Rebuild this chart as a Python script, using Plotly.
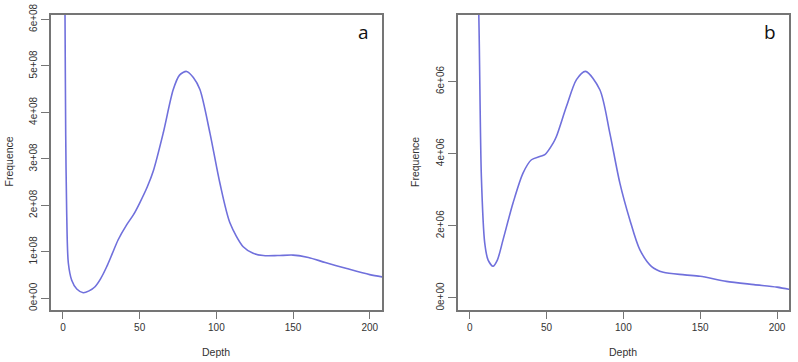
import plotly.graph_objects as go

# Panel a
depth_a = [1.0, 1.3, 1.8, 2.4, 3.5, 5.7, 9, 13.2, 17, 20.9, 24.5, 28.5, 32, 36, 41.5, 46, 50,
           55, 59, 65.4, 71.9, 76, 80.6, 85, 89.3, 95.8, 102.3, 108.9, 117.5, 124, 130.6,
           140, 150, 160, 171, 185, 200, 210]
freq_a = [7.5e8, 6.3e8, 3.5e8, 1.9e8, 0.76e8, 0.39e8, 0.2e8, 0.12e8, 0.16e8, 0.25e8, 0.42e8,
          0.68e8, 0.95e8, 1.26e8, 1.58e8, 1.8e8, 2.05e8, 2.4e8, 2.75e8, 3.56e8, 4.49e8, 4.8e8,
          4.88e8, 4.75e8, 4.49e8, 3.56e8, 2.48e8, 1.62e8, 1.11e8, 0.97e8, 0.92e8, 0.92e8,
          0.93e8, 0.88e8, 0.77e8, 0.64e8, 0.51e8, 0.45e8]

# Panel b
depth_b = [4.5, 5.9, 7.6, 9.8, 12, 15.2, 18, 21.7, 28.2, 34.7, 40.2, 45.6, 48.9, 54.3, 56.5,
           63, 69.5, 75.4, 84.7, 91.2, 97.7, 104.2, 110.7, 118.4, 126, 140, 150, 167, 185,
           200, 210]
freq_b = [9.5e6, 7.9e6, 3.37e6, 1.52e6, 1.05e6, 0.88e6, 1.05e6, 1.61e6, 2.63e6, 3.46e6,
          3.83e6, 3.92e6, 3.97e6, 4.29e6, 4.48e6, 5.31e6, 6.05e6, 6.28e6, 5.77e6, 4.57e6,
          3.19e6, 2.17e6, 1.34e6, 0.87e6, 0.71e6, 0.64e6, 0.6e6, 0.46e6, 0.37e6, 0.3e6, 0.22e6]

x_ticks = [0, 50, 100, 150, 200]
x_ticktext = ["0", "50", "100", "150", "200"]
ya_ticks = [0, 1e8, 2e8, 3e8, 4e8, 5e8, 6e8]
ya_ticktext = ["0e+00", "1e+08", "2e+08", "3e+08", "4e+08", "5e+08", "6e+08"]
yb_ticks = [0, 2e6, 4e6, 6e6]
yb_ticktext = ["0e+00", "2e+06", "4e+06", "6e+06"]
panel_labels = ["a", "b"]
x_title = "Depth"
y_title = "Frequence"

W, H = 798, 362


def px(xp):
    return xp / W


def py(yp):
    return 1 - yp / H


LINE = "#7070dc"
AX = "#757575"
FONT = "Liberation Sans, Arial, sans-serif"

fig = go.Figure()
fig.add_trace(go.Scatter(x=depth_a, y=freq_a, mode="lines", xaxis="x", yaxis="y",
                         line=dict(color=LINE, width=1.6, shape="spline", smoothing=0.8),
                         showlegend=False, hoverinfo="skip"))
fig.add_trace(go.Scatter(x=depth_b, y=freq_b, mode="lines", xaxis="x2", yaxis="y2",
                         line=dict(color=LINE, width=1.6, shape="spline", smoothing=0.8),
                         showlegend=False, hoverinfo="skip"))

ydom = [py(309.5), py(14.7)]
xdom_a = [px(51), px(382)]
xdom_b = [px(457.7), px(789.3)]

common_x = dict(range=[-7.8, 208], showline=True, linecolor=AX, linewidth=1.6, mirror=True,
                ticks="outside", ticklen=8, tickcolor=AX, tickwidth=1.2, showgrid=False,
                zeroline=False, tickvals=x_ticks, ticktext=x_ticktext, automargin=False,
                tickfont=dict(size=10, color="#333333", family=FONT))
common_y = dict(showline=True, linecolor=AX, linewidth=1.6, mirror=True,
                ticks="outside", ticklen=8, tickcolor=AX, tickwidth=1.2, showgrid=False,
                zeroline=False, tickangle=-90, automargin=False,
                tickfont=dict(size=10, color="#333333", family=FONT))

fig.update_layout(
    width=W, height=H,
    margin=dict(l=0, r=0, t=0, b=0, pad=0),
    paper_bgcolor="white", plot_bgcolor="white",
    xaxis=dict(domain=xdom_a, anchor="y", **common_x),
    yaxis=dict(domain=ydom, anchor="x", range=[-0.24e8, 6.1e8],
               tickvals=ya_ticks, ticktext=ya_ticktext, **common_y),
    xaxis2=dict(domain=xdom_b, anchor="y2", **common_x),
    yaxis2=dict(domain=ydom, anchor="x2", range=[-0.32e6, 7.85e6],
                tickvals=yb_ticks, ticktext=yb_ticktext, **common_y),
)

ann = []
for xc, txt in [(216, x_title), (623, x_title)]:
    ann.append(dict(x=px(xc), y=py(352), xref="paper", yref="paper", text=txt,
                    showarrow=False, xanchor="center", yanchor="middle",
                    font=dict(size=10.5, color="#333333", family=FONT)))
for xc in [8.5, 415]:
    ann.append(dict(x=px(xc), y=py(162), xref="paper", yref="paper", text=y_title,
                    showarrow=False, textangle=-90, xanchor="center", yanchor="middle",
                    font=dict(size=10.5, color="#333333", family=FONT)))
for xc, lab in [(363, panel_labels[0]), (770, panel_labels[1])]:
    ann.append(dict(x=px(xc), y=py(32.5), xref="paper", yref="paper", text=lab,
                    showarrow=False, xanchor="center", yanchor="middle",
                    font=dict(size=19, color="#111111", family="Open Sans, sans-serif")))
fig.update_layout(annotations=ann)

# remove the browser's default 8px page margin so the figure fills the window exactly
fig.write_html("out.html", config={"displayModeBar": False},
               post_script="document.body.style.margin='0';document.body.style.overflow='hidden';")
